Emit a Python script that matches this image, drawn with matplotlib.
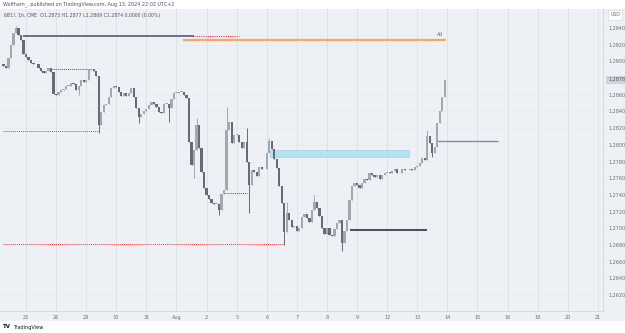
import matplotlib
matplotlib.use("Agg")
import matplotlib.pyplot as plt
from matplotlib.patches import Rectangle

# 2h bars of 6B1!, start Jul 24 06:00, x in trading hours from Jul 25 00:00
bar_start = -18
bar_step = 2
closes = [
    1.28944, 1.28920, 1.29040, 1.29196, 1.29340, 1.29400, 1.29316, 1.29256, 1.29088, 1.29052,
    1.29016, 1.28980, 1.28968, 1.28968, 1.28920, 1.28884, 1.28860, 1.28884, 1.28920, 1.28872,
    1.28609, 1.28597, 1.28633, 1.28657, 1.28669, 1.28705, 1.28705, 1.28741, 1.28729, 1.28657,
    1.28705, 1.28777, 1.28753, 1.28777, 1.28896, 1.28908, 1.28884, 1.28825, 1.28237, 1.28393,
    1.28477, 1.28489, 1.28573, 1.28681, 1.28705, 1.28693, 1.28633, 1.28585, 1.28621, 1.28585,
    1.28621, 1.28681, 1.28573, 1.28441, 1.28333, 1.28369, 1.28405, 1.28429, 1.28477, 1.28513,
    1.28489, 1.28453, 1.28393, 1.28381, 1.28489, 1.28489, 1.28441, 1.28549, 1.28621, 1.28621,
    1.28633, 1.28633, 1.28597, 1.28561, 1.28034, 1.27758, 1.27938, 1.28237, 1.27962, 1.27674,
    1.27483, 1.27399, 1.27351, 1.27303, 1.27291, 1.27291, 1.27219, 1.27411, 1.27459, 1.28178,
    1.28273, 1.28022, 1.28118, 1.28118, 1.28034, 1.27962, 1.28034, 1.27794, 1.27519, 1.27698,
    1.27674, 1.27627, 1.27734, 1.27710, 1.27710, 1.27902, 1.28046, 1.27950, 1.27830, 1.27722,
    1.27507, 1.27303, 1.26956, 1.27183, 1.27099, 1.27016, 1.27028, 1.26968, 1.27004, 1.27135,
    1.27171, 1.27123, 1.27075, 1.27219, 1.27315, 1.27243, 1.27147, 1.27004, 1.26932, 1.27004,
    1.26920, 1.26908, 1.26992, 1.27063, 1.27099, 1.26824, 1.26968, 1.27099, 1.27339, 1.27507,
    1.27543, 1.27519, 1.27483, 1.27543, 1.27591, 1.27579, 1.27662, 1.27638, 1.27615, 1.27638,
    1.27591, 1.27638, 1.27662, 1.27674, 1.27662, 1.27686, 1.27710, 1.27662, 1.27662, 1.27710,
    1.27698, 1.27698, 1.27710, 1.27698, 1.27734, 1.27746, 1.27782, 1.27842, 1.27818, 1.28106,
    1.28022, 1.27902, 1.27974, 1.28261, 1.28405, 1.28573, 1.28777,
]
first_open = 1.28968
# long wicks (bar index -> price)
wick_high = {5: 1.29424, 77: 1.28321, 89: 1.28453, 97: 1.28202, 106: 1.28082,
             113: 1.27315, 124: 1.27399, 169: 1.28178}
wick_low = {30: 1.28597, 38: 1.28142, 54: 1.28261, 66: 1.28273, 76: 1.27603,
            86: 1.27159, 98: 1.27183, 112: 1.26800, 135: 1.26728, 171: 1.27854}

day_labels = ["25", "26", "29", "30", "31", "Aug", "2", "5", "6", "7",
              "8", "9", "12", "13", "14", "15", "16", "19", "20", "21"]
price_ticks = [1.2620 + 0.002 * k for k in range(17)]

# drawn levels: (price, start hour, end hour)
grey_level = (1.2930, -2.4, 133.9)
grey_level_red = (1.2930, 133.9, 169.8)
orange_level = (1.29256, 125.2, 334.9)
dot_level_1 = (1.28908, 19.1, 51.0)
red_level_1 = (1.28166, -18.3, 59.0)
zone = (1.27854, 1.27938, 194.5, 305.4)
dot_level_2 = (1.27423, 158.7, 176.2)
red_level_2 = (1.26812, -18.3, 206.5)
dark_level = (1.26979, 258.3, 319.7)
grey_ray = (1.28046, 327.7, 376.3)

bg = "#edf0f5"
up_col = "#a3a7b0"
dn_col = "#676b77"
txt = "#6a6d78"

fig = plt.figure(figsize=(6.25, 3.33), dpi=100, facecolor="white")
fig.patches.append(Rectangle((0, 1 - 321 / 333), 1, (321 - 9) / 333,
                             transform=fig.transFigure, facecolor=bg,
                             edgecolor="none", zorder=-5))
ax = fig.add_axes([0, 1 - 311 / 333, 603 / 625, (311 - 9) / 333])
ax.set_facecolor(bg)

hours = [bar_start + bar_step * i for i in range(len(closes))]
opens = [first_open] + closes[:-1]
for i, (h, o, c) in enumerate(zip(hours, opens, closes)):
    col = up_col if c >= o else dn_col
    lo = wick_low.get(i, min(o, c))
    hi = wick_high.get(i, max(o, c))
    ax.vlines(h, lo, hi, color=col, lw=0.7, zorder=3)
    body = max(abs(c - o), 0.00006)
    ax.bar(h, body, bottom=min(o, c), width=1.8, color=col, lw=0, zorder=3)

# levels
ax.hlines(grey_level[0], grey_level[1], grey_level[2], color="#6b7080", lw=1.4, zorder=2)
ax.hlines(grey_level_red[0], grey_level_red[1], grey_level_red[2], color="#f23645",
          lw=0.8, linestyles=(0, (1, 1)), zorder=2)
ax.hlines(orange_level[0], orange_level[1], orange_level[2], color="#f7a868", lw=1.6, zorder=2)
ax.text(orange_level[2] - 2, orange_level[0] + 0.0003, "Ad", fontsize=3.5,
        color=txt, ha="right", va="bottom")
ax.hlines(dot_level_1[0], dot_level_1[1], dot_level_1[2], color="#50535e",
          lw=0.7, linestyles=(0, (1, 1)), zorder=2)
ax.hlines(red_level_1[0], red_level_1[1], red_level_1[2], color="#f23645",
          lw=0.7, linestyles=(0, (1, 1)), zorder=2)
ax.add_patch(Rectangle((zone[2], zone[0]), zone[3] - zone[2], zone[1] - zone[0],
                       facecolor="#b3e3ee", edgecolor="#9fd6e3", lw=0.5, zorder=2))
ax.hlines(dot_level_2[0], dot_level_2[1], dot_level_2[2], color="#50535e",
          lw=0.7, linestyles=(0, (1, 1)), zorder=2)
ax.hlines(red_level_2[0], red_level_2[1], red_level_2[2], color="#f23645",
          lw=0.7, linestyles=(0, (1, 1)), zorder=2)
ax.hlines(dark_level[0], dark_level[1], dark_level[2], color="#3d414d", lw=1.3, zorder=2)
ax.hlines(grey_ray[0], grey_ray[1], grey_ray[2], color="#8a8d96", lw=1.0, zorder=2)

# axes
day_pos = [24 * k for k in range(len(day_labels))]
ax.set_xlim(-20.7, 460.1)
ax.set_ylim(1.26009, 1.29627)
ax.set_xticks(day_pos)
ax.set_xticklabels(day_labels)
ax.set_yticks(price_ticks)
ax.set_yticklabels([f"{p:.4f}" for p in price_ticks])
ax.yaxis.tick_right()
ax.tick_params(axis="x", length=0, pad=3, labelsize=3.6, labelcolor=txt)
ax.tick_params(axis="y", length=0, pad=4, labelsize=3.5, labelcolor=txt)
ax.grid(axis="x", color="#dcdfe6", lw=0.6, zorder=0)
ax.grid(axis="y", color="#e5e8ee", lw=0.4, zorder=0)
ax.set_axisbelow(True)
for s in ["top", "left"]:
    ax.spines[s].set_visible(False)
for s in ["right", "bottom"]:
    ax.spines[s].set_color("#d3d6dd")
    ax.spines[s].set_linewidth(0.6)

# price axis tags
ax.text(1.012, 1 - 6 / 302, "USD", transform=ax.transAxes, fontsize=3.3, color=txt,
        va="center", ha="left",
        bbox=dict(boxstyle="square,pad=0.5", fc="white", ec="#d3d6dd", lw=0.4))
ax.text(1.009, closes[-1], f"{closes[-1]:.4f}", transform=ax.get_yaxis_transform(),
        fontsize=3.5, color="#50535e", va="center", ha="left",
        bbox=dict(boxstyle="square,pad=0.4", fc="#d1d4dc", ec="none"))

# header texts
fig.text(3 / 625, 1 - 4 / 333, "Wolfham_, published on TradingView.com, Aug 13, 2024 22:02 UTC+2",
         fontsize=3.5, color="#50535e", va="center", ha="left")
ax.text(4 / 603, 1 - 6 / 302, "6B1!, 1h, CME  O1.2873 H1.2877 L1.2869 C1.2874 0.0000 (0.00%)",
        transform=ax.transAxes, fontsize=3.3, color="#50535e", va="center", ha="left")
fig.text(3 / 625, 1 - 327 / 333, "TV", fontsize=4, fontweight="bold", color="#131722",
         va="center", ha="left")
fig.text(13 / 625, 1 - 327 / 333, "TradingView", fontsize=3.6, color="#131722",
         va="center", ha="left")

fig.savefig("out.png", dpi=100, facecolor="white")
